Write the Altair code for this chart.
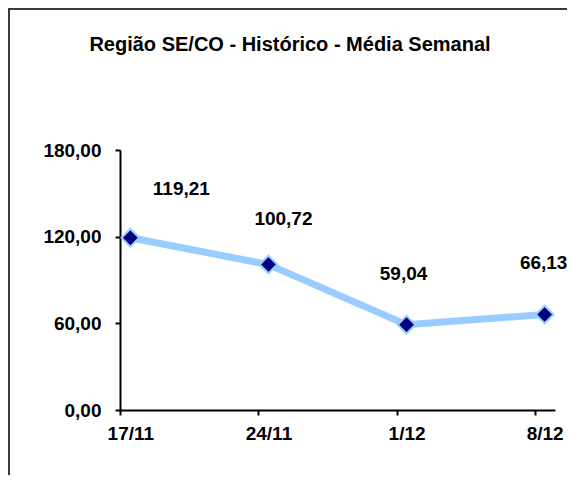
import altair as alt
import pandas as pd

# ---- data ----
dates = ["17/11", "24/11", "1/12", "8/12"]
values = [119.21, 100.72, 59.04, 66.13]
y_ticks = [0, 60, 120, 180]
title_text = "Região SE/CO - Histórico - Média Semanal"

df = pd.DataFrame({"date": dates, "value": values})

FONT = "Liberation Sans"
FMT = "replace(format(datum.value, '.2f'), '.', ',')"
LABEL_SIZE = 19

x = alt.X(
    "date:N",
    sort=dates,
    scale=alt.Scale(type="point", padding=0.075),
    axis=alt.Axis(title=None, labelAngle=0, tickOffset=-10, labelOffset=10,
                  labelPadding=9),
)
y = alt.Y(
    "value:Q",
    scale=alt.Scale(domain=[0, 180], nice=False, zero=True),
    axis=alt.Axis(title=None, values=y_ticks, labelExpr=FMT, labelPadding=14),
)

base = alt.Chart(df)

line = base.mark_line(color="#99CCFF", strokeWidth=7).encode(x=x, y=y)

points = base.mark_point(
    shape="diamond", size=310, filled=True, fill="#000080",
    stroke="#99CCFF", strokeWidth=2, opacity=1, fillOpacity=1, strokeOpacity=1,
).encode(x=x, y=y)

# label placement (style only)
label_offsets = {"17/11": (51, -49), "24/11": (15, -46), "1/12": (-3, -51), "8/12": (-1, -51)}
labels = []
for d in dates:
    ddx, ddy = label_offsets[d]
    labels.append(
        base.transform_filter(alt.datum.date == d)
        .transform_calculate(label=FMT)
        .mark_text(dx=ddx, dy=ddy, font=FONT, fontSize=LABEL_SIZE, fontWeight="bold",
                   color="black", align="center", baseline="middle")
        .encode(x=x, y=y, text="label:N")
    )

border = alt.Chart(alt.Data(values=[{}])).mark_rect(
    fill="transparent", stroke="#3a3a3a", strokeWidth=2
).encode(x=alt.value(-111), x2=alt.value(800), y=alt.value(-141), y2=alt.value(800))

title = alt.Chart(alt.Data(values=[{"t": title_text}])).mark_text(
    font=FONT, fontSize=20, fontWeight="bold", color="black",
    align="center", baseline="alphabetic",
).encode(x=alt.value(170), y=alt.value(-99), text="t:N")

chart = alt.layer(border, title, line, points, *labels).properties(
    width=435,
    height=260,
    autosize=alt.AutoSizeParams(type="none"),
    padding={"left": 112, "top": 142, "right": 12, "bottom": 65},
    background="white",
).configure_view(stroke=None).configure_axis(
    domainColor="black", domainWidth=2, tickColor="black", tickWidth=2,
    tickSize=5, labelFont=FONT, labelFontWeight="bold", labelFontSize=LABEL_SIZE,
    labelColor="black", grid=False,
)

chart.save("out.html", embed_options={"renderer": "svg", "actions": False})
